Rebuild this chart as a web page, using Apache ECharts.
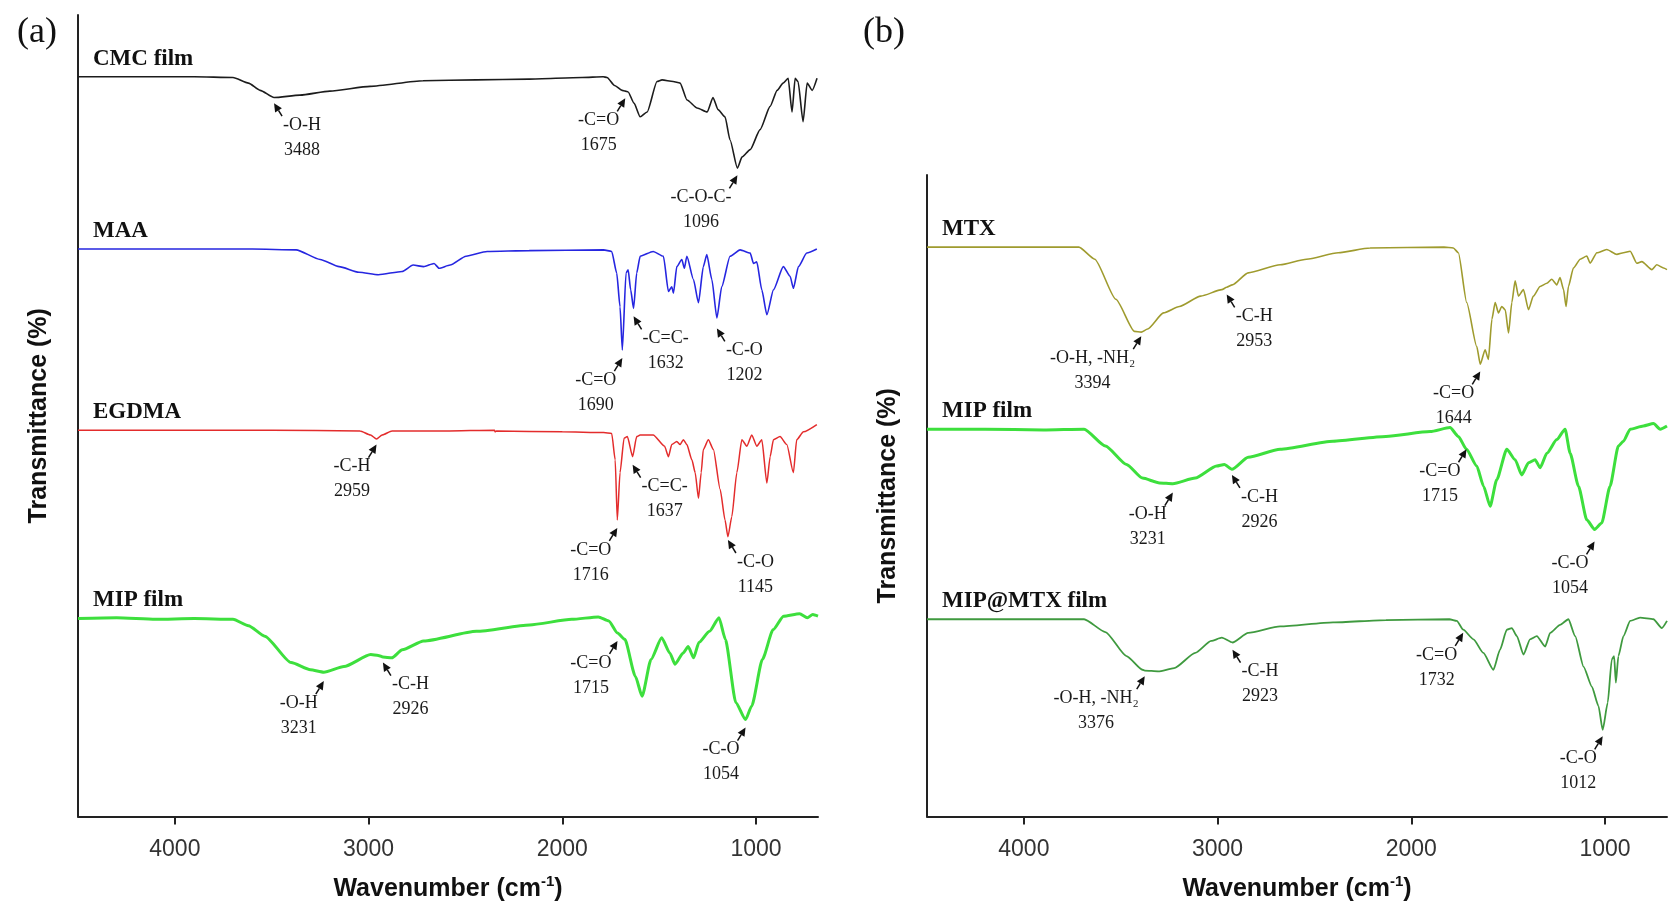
<!DOCTYPE html>
<html>
<head>
<meta charset="utf-8">
<script src="https://cdn.jsdelivr.net/npm/echarts@6.0.0/dist/echarts.min.js"></script>
<style>
  html, body { margin: 0; padding: 0; background: #ffffff; }
  #chart { width: 1670px; height: 907px; }
</style>
</head>
<body>
<div id="chart"></div>
<script>
// FTIR spectra, stacked: [wavenumber (cm-1), transmittance (offset, a.u.)]
const cmcFilm = [[4500,92.3],[4200,92.3],[3900,92.3],[3700,92.2],[3620,91.5],[3560,90.6],[3488,89.7],[3354,90.0],[3200,90.5],[2992,91.1],[2719,91.8],[2445,91.9],[2171,92.0],[1898,92.2],[1789,92.3],[1769,92.2],[1730,91.2],[1691,90.6],[1675,90.5],[1660,90.4],[1630,89.0],[1598,87.3],[1562,87.9],[1511,91.7],[1485,91.9],[1428,91.7],[1392,91.5],[1356,89.4],[1304,88.4],[1252,87.9],[1222,89.7],[1196,88.2],[1160,87.3],[1134,84.4],[1096,80.9],[1072,82.3],[1030,83.2],[979,85.7],[927,88.6],[891,90.6],[860,91.5],[834,92.1],[814,87.9],[798,92.1],[783,91.7],[757,86.7],[736,91.5],[710,90.6],[685,92.1]];

const maa = [[4500,70.8],[4000,70.8],[3600,70.8],[3374,70.7],[3250,69.5],[3152,68.6],[3050,67.9],[2949,67.6],[2827,68.0],[2770,68.8],[2716,68.6],[2662,69.0],[2636,68.4],[2579,68.8],[2497,69.9],[2388,70.5],[2171,70.6],[1787,70.7],[1745,70.5],[1719,67.8],[1702,63.6],[1690,58.2],[1671,67.8],[1660,68.2],[1647,65.7],[1632,63.4],[1616,67.8],[1598,69.9],[1531,70.5],[1478,69.9],[1452,65.5],[1435,66.1],[1426,65.3],[1409,68.6],[1383,69.5],[1370,68.4],[1357,69.9],[1323,67.0],[1297,64.1],[1272,68.6],[1254,70.1],[1228,67.0],[1202,62.2],[1177,66.1],[1134,69.9],[1082,70.7],[1030,70.3],[1013,69.0],[996,69.2],[970,65.7],[944,62.6],[910,65.7],[859,68.6],[824,67.4],[807,65.9],[781,68.6],[738,70.3],[686,70.8]];

const egdma = [[4500,48.2],[4000,48.2],[3500,48.2],[3044,48.1],[2990,47.6],[2959,47.1],[2930,47.6],[2879,48.1],[2600,48.1],[2350,48.2],[2347,48.0],[2340,48.1],[2000,48.0],[1787,47.9],[1745,47.8],[1727,44.5],[1716,37.0],[1702,42.9],[1681,47.2],[1664,47.4],[1637,44.9],[1616,47.4],[1598,47.6],[1531,47.6],[1472,46.2],[1452,44.9],[1435,46.4],[1409,46.8],[1392,46.4],[1375,47.0],[1357,46.4],[1331,44.5],[1314,42.9],[1297,39.7],[1283,42.9],[1272,45.8],[1246,47.0],[1220,45.8],[1185,40.8],[1160,37.0],[1145,34.9],[1125,37.4],[1099,42.9],[1073,47.0],[1047,46.2],[1022,47.6],[996,46.2],[970,47.0],[944,41.6],[927,44.9],[910,47.0],[876,47.4],[841,46.4],[807,42.9],[790,47.0],[755,48.0],[686,48.9]];

const mipFilmA = [[4500,24.7],[4300,24.8],[4100,24.6],[3900,24.7],[3700,24.6],[3620,23.8],[3536,22.5],[3400,19.2],[3300,18.3],[3231,18.0],[3127,18.7],[2989,20.2],[2950,20.1],[2926,19.9],[2880,19.8],[2826,20.8],[2716,21.9],[2443,23.1],[2169,23.9],[1951,24.6],[1814,24.9],[1760,24.4],[1715,22.9],[1677,22.1],[1623,17.5],[1588,15.0],[1542,19.6],[1487,22.3],[1445,20.4],[1418,19.0],[1376,20.4],[1350,21.2],[1322,19.8],[1295,21.7],[1240,23.1],[1191,24.8],[1158,22.1],[1104,14.2],[1054,12.1],[1022,13.8],[967,19.6],[912,23.3],[858,25.0],[775,25.3],[735,24.8],[707,25.2],[680,25.0]];

const mtx = [[4500,71.0],[4000,71.0],[3716,71.0],[3634,69.5],[3525,64.5],[3429,60.5],[3394,60.4],[3361,60.8],[3279,62.8],[3197,63.6],[3087,64.9],[2978,65.7],[2953,66.0],[2924,66.3],[2842,67.8],[2677,68.8],[2541,69.5],[2377,70.3],[2213,70.9],[1831,71.0],[1783,70.9],[1757,70.3],[1714,64.1],[1662,58.6],[1644,56.4],[1619,58.2],[1602,57.0],[1584,62.0],[1567,64.1],[1550,62.8],[1533,63.6],[1515,63.2],[1498,60.3],[1481,64.1],[1464,66.8],[1447,64.9],[1421,65.7],[1395,63.2],[1370,64.9],[1335,66.1],[1300,66.5],[1275,67.0],[1249,66.3],[1232,67.2],[1214,65.7],[1201,63.6],[1189,66.1],[1163,68.4],[1128,69.5],[1094,69.9],[1077,69.0],[1042,70.3],[991,70.7],[939,70.1],[905,70.3],[870,70.5],[836,69.0],[810,69.2],[758,68.2],[733,68.8],[698,68.4],[680,68.2]];

const mipFilmB = [[4500,48.3],[4200,48.3],[3900,48.2],[3689,48.3],[3579,46.2],[3470,43.9],[3388,42.2],[3300,41.6],[3231,41.5],[3115,42.2],[3005,43.7],[2965,43.9],[2926,43.3],[2842,44.8],[2677,45.8],[2404,46.8],[2131,47.4],[1903,48.0],[1800,48.5],[1757,47.4],[1715,45.8],[1662,43.7],[1627,41.2],[1593,38.7],[1559,42.0],[1507,45.8],[1464,44.5],[1430,42.6],[1395,44.1],[1361,44.5],[1335,43.5],[1300,45.3],[1249,47.0],[1206,48.3],[1180,45.3],[1137,41.2],[1094,37.0],[1054,35.8],[1017,36.6],[974,41.2],[931,46.2],[905,46.8],[870,48.3],[802,48.7],[750,49.0],[715,48.3],[680,48.7]];

const mipMtxFilm = [[4500,24.6],[4200,24.6],[3900,24.6],[3689,24.6],[3579,23.0],[3470,20.0],[3388,18.3],[3376,18.2],[3306,18.1],[3224,18.5],[3115,20.4],[3033,21.9],[2978,22.3],[2923,21.7],[2842,22.9],[2677,23.7],[2404,24.2],[2131,24.5],[1803,24.6],[1765,24.4],[1732,23.3],[1679,22.1],[1628,20.4],[1576,18.3],[1542,20.8],[1507,23.3],[1481,23.5],[1455,22.5],[1421,20.2],[1387,22.1],[1352,22.5],[1309,21.2],[1283,22.9],[1232,23.9],[1189,24.6],[1154,22.5],[1111,18.7],[1068,16.2],[1034,13.8],[1012,10.8],[986,14.2],[965,19.6],[953,20.0],[944,16.7],[931,20.0],[905,22.5],[870,24.4],[819,24.8],[750,24.6],[707,23.5],[680,24.4]];

const wavenumberTicks = [1000, 2000, 3000, 4000];
const wavenumberRange = [680, 4500];

// Band assignments: [wavenumber, transmittance at arrow tip, text side ('L' lower-left, 'R' lower-right), group]
const bandsA = [
  [3488, 89.0, 'R', '-O-H'],
  [1675, 89.6, 'L', '-C=O'],
  [1096, 80.0, 'L', '-C-O-C-'],
  [1690, 57.2, 'L', '-C=O'],
  [1632, 62.4, 'R', '-C=C-'],
  [1202, 60.9, 'R', '-C-O'],
  [2959, 46.4, 'L', '-C-H'],
  [1716, 36.0, 'L', '-C=O'],
  [1637, 43.9, 'R', '-C=C-'],
  [1145, 34.5, 'R', '-C-O'],
  [3231, 16.9, 'L', '-O-H'],
  [2926, 19.2, 'R', '-C-H'],
  [1715, 21.9, 'L', '-C=O'],
  [1054, 11.1, 'L', '-C-O']
];
const bandsB = [
  [3394, 59.9, 'L', '-O-H, -NH\u2082'],
  [2953, 65.1, 'R', '-C-H'],
  [1644, 55.5, 'L', '-C=O'],
  [3231, 40.4, 'L', '-O-H'],
  [2926, 42.6, 'R', '-C-H'],
  [1715, 45.8, 'L', '-C=O'],
  [1054, 34.3, 'L', '-C-O'],
  [3376, 17.5, 'L', '-O-H, -NH\u2082'],
  [2923, 20.8, 'R', '-C-H'],
  [1732, 22.9, 'L', '-C=O'],
  [1012, 10.0, 'L', '-C-O']
];

const SERIF = '"Liberation Serif", "Times New Roman", serif';
const SANS = '"Liberation Sans", Arial, sans-serif';
const BAND_FONT = '18px ' + SERIF;

const measureCtx = document.createElement('canvas').getContext('2d');
function textWidth(s) {
  measureCtx.font = BAND_FONT;
  return measureCtx.measureText(s).width;
}

// Arrow from below pointing at a band, with its assignment and wavenumber underneath
function bandRenderer(bands) {
  return function (params, api) {
    const band = bands[params.dataIndex];
    const tip = api.coord([api.value(0), api.value(1)]);
    const side = band[2] === 'L' ? 1 : -1;
    const tail = [tip[0] - side * 8, tip[1] + 13];
    const dx = tip[0] - tail[0], dy = tip[1] - tail[1];
    const len = Math.sqrt(dx * dx + dy * dy);
    const ux = dx / len, uy = dy / len;
    const nx = -uy, ny = ux;
    const headLen = 8.5, headHalf = 4;
    const base = [tip[0] - ux * headLen, tip[1] - uy * headLen];
    const text = band[3] + '\n' + band[0];
    const w = Math.max(textWidth(band[3]), textWidth(String(band[0])));
    const cx = side === 1 ? tip[0] - 6 - w / 2 : tip[0] + 9 + w / 2;
    return {
      type: 'group',
      children: [
        { type: 'line', shape: { x1: tail[0], y1: tail[1], x2: base[0], y2: base[1] },
          style: { stroke: '#111', lineWidth: 1.5 } },
        { type: 'polygon', shape: { points: [tip,
            [base[0] + nx * headHalf, base[1] + ny * headHalf],
            [base[0] - nx * headHalf, base[1] - ny * headHalf]] },
          style: { fill: '#111' } },
        { type: 'text', style: { text: text, x: cx, y: tip[1] + 9.5, align: 'center',
            verticalAlign: 'top', font: BAND_FONT, lineHeight: 25, fill: '#1a1a1a' } }
      ]
    };
  };
}

function spectrum(name, data, color, width, gridIdx) {
  return {
    type: 'line', name: name, data: data, xAxisIndex: gridIdx, yAxisIndex: gridIdx,
    showSymbol: false, symbol: 'none', smooth: 0.2, smoothMonotone: 'x', clip: true,
    lineStyle: { color: color, width: width },
    markPoint: {
      symbol: 'circle', symbolSize: 0, silent: true, animation: false,
      data: [{ coord: data[0], label: {
        show: true, formatter: name, position: 'right', offset: [10, -18],
        fontFamily: SERIF, fontWeight: 'bold', fontSize: 23, color: '#111'
      } }]
    }
  };
}

function xAxisFor(gridIdx) {
  return {
    type: 'value', gridIndex: gridIdx, inverse: true,
    min: wavenumberRange[0], max: wavenumberRange[1],
    axisLine: { show: true, lineStyle: { color: '#222', width: 2 } },
    axisTick: { show: true, customValues: wavenumberTicks, length: 8, inside: false,
      lineStyle: { color: '#222', width: 2 } },
    axisLabel: { show: true, customValues: wavenumberTicks, margin: 22,
      formatter: v => String(v),
      fontFamily: SANS, fontSize: 23, color: '#333' },
    splitLine: { show: false },
    name: '{b|Wavenumber (cm}{s|-1}{b|)}', nameLocation: 'middle', nameGap: 58,
    nameTextStyle: {
      rich: {
        b: { fontFamily: SANS, fontWeight: 'bold', fontSize: 25, color: '#111', lineHeight: 30 },
        s: { fontFamily: SANS, fontWeight: 'bold', fontSize: 15, color: '#111', lineHeight: 30, verticalAlign: 'top' }
      }
    }
  };
}

function yAxisFor(gridIdx, max) {
  return {
    type: 'value', gridIndex: gridIdx, min: 0, max: max,
    axisLine: { show: true, lineStyle: { color: '#222', width: 2 } },
    axisTick: { show: false }, axisLabel: { show: false }, splitLine: { show: false },
    name: 'Transmittance (%)', nameLocation: 'middle', nameRotate: 90, nameGap: 26,
    nameTextStyle: { fontFamily: SANS, fontWeight: 'bold', fontSize: 25, color: '#111' }
  };
}

const chart = echarts.init(document.getElementById('chart'), null, { renderer: 'canvas' });
chart.setOption({
  backgroundColor: '#ffffff',
  animation: false,
  title: [
    { text: '(a)', left: 12, top: 10, textStyle: { fontFamily: SERIF, fontWeight: 'normal', fontSize: 36, color: '#111' } },
    { text: '(b)', left: 858, top: 10, textStyle: { fontFamily: SERIF, fontWeight: 'normal', fontSize: 36, color: '#111' } }
  ],
  grid: [
    { left: 78, top: 15, width: 740, height: 802 },
    { left: 927, top: 175, width: 740, height: 642 }
  ],
  xAxis: [xAxisFor(0), xAxisFor(1)],
  yAxis: [yAxisFor(0, 100), yAxisFor(1, 80)],
  series: [
    spectrum('CMC film', cmcFilm, '#1c1c1c', 1.6, 0),
    spectrum('MAA', maa, '#2626e0', 1.6, 0),
    spectrum('EGDMA', egdma, '#e32c2c', 1.5, 0),
    spectrum('MIP film', mipFilmA, '#3ddf3d', 3, 0),
    spectrum('MTX', mtx, '#9f9b2e', 1.6, 1),
    spectrum('MIP film', mipFilmB, '#3ddf3d', 3, 1),
    spectrum('MIP@MTX film', mipMtxFilm, '#3f9a3f', 1.8, 1),
    { type: 'custom', xAxisIndex: 0, yAxisIndex: 0, clip: false, silent: true,
      data: bandsA.map(b => [b[0], b[1]]), renderItem: bandRenderer(bandsA), z: 5 },
    { type: 'custom', xAxisIndex: 1, yAxisIndex: 1, clip: false, silent: true,
      data: bandsB.map(b => [b[0], b[1]]), renderItem: bandRenderer(bandsB), z: 5 }
  ]
});
</script>
</body>
</html>
